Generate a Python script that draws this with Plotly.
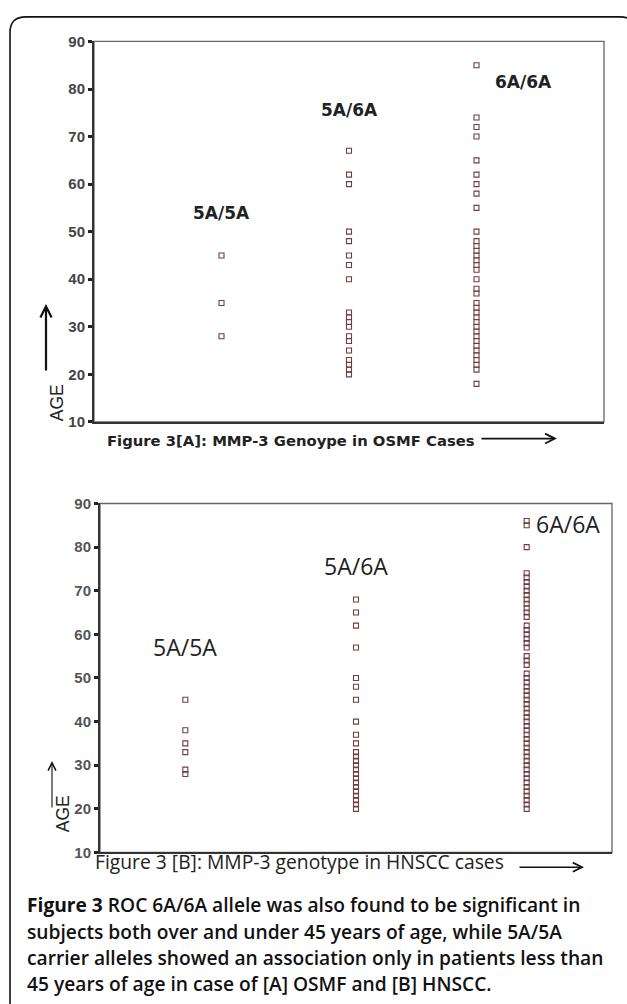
import plotly.graph_objects as go

W, H = 627, 1004

categories = ["5A/5A", "5A/6A", "6A/6A"]

# Panel A (OSMF) ages
osmf_5a5a = [45, 35, 28]
osmf_5a6a = [67, 62, 60, 50, 48, 45, 43, 40, 33, 32, 31, 30, 28, 27, 25, 23, 22, 21, 20]
osmf_6a6a = [85, 74, 72, 70, 65, 62, 60, 58, 55, 50, 48, 47, 46, 45, 44, 43, 42, 40,
             38, 37, 35, 34, 33, 32, 31, 30, 29, 28, 27, 26, 25, 24, 23, 22, 21, 18]

# Panel B (HNSCC) ages
hnscc_5a5a = [45, 38, 35, 33, 29, 28]
hnscc_5a6a = [68, 65, 62, 57, 50, 48, 45, 40, 37, 35, 33, 32, 31, 30, 29, 28, 27, 26,
              25, 24, 23, 22, 21, 20]
hnscc_6a6a = [86, 85, 80, 74, 73, 72, 71, 70, 69, 68, 67, 66, 65, 64, 62, 61, 60, 59,
              58, 57, 55, 54, 53, 51, 50, 49, 48, 47, 46, 45, 44, 43, 42, 41, 40, 39,
              38, 37, 36, 35, 34, 33, 32, 31, 30, 29, 28, 27, 26, 25, 24, 23, 22, 21, 20]

y_ticks = [10, 20, 30, 40, 50, 60, 70, 80, 90]


def px(x):
    return x / W


def py(y):
    return 1 - y / H


MARK = "#733d3d"

fig = go.Figure()

panels = [
    ("x", "y", [osmf_5a5a, osmf_5a6a, osmf_6a6a]),
    ("x2", "y2", [hnscc_5a5a, hnscc_5a6a, hnscc_6a6a]),
]
for xa, ya, groups in panels:
    for cat, vals in zip(categories, groups):
        fig.add_trace(go.Scatter(
            x=[cat] * len(vals), y=vals, mode="markers", xaxis=xa, yaxis=ya,
            marker=dict(symbol="square-open", size=5, color=MARK, line=dict(width=1.1, color=MARK)),
            showlegend=False, hoverinfo="skip"))

axis_common = dict(showgrid=False, zeroline=False)
fig.update_layout(
    width=W, height=H,
    margin=dict(l=0, r=0, t=0, b=0),
    paper_bgcolor="white", plot_bgcolor="white",
    xaxis=dict(domain=[px(94), px(604)], anchor="y", type="category",
               categoryorder="array", categoryarray=categories, range=[-1, 3],
               showticklabels=False, ticks="", showline=True, linecolor="#333",
               linewidth=2, **axis_common),
    yaxis=dict(domain=[py(420), py(33)], anchor="x", range=[10, 90], tickvals=y_ticks,
               ticks="outside", ticklen=4, tickwidth=3, tickcolor="#222",
               showline=True, linecolor="#333", linewidth=2,
               tickfont=dict(family="Liberation Sans, Arial", size=15, color="#444", weight="bold"),
               **axis_common),
    xaxis2=dict(domain=[px(100), px(612)], anchor="y2", type="category",
                categoryorder="array", categoryarray=categories, range=[-0.5, 2.5],
                showticklabels=False, ticks="", showline=True, linecolor="#333",
                linewidth=2, **axis_common),
    yaxis2=dict(domain=[py(858), py(503)], anchor="x2", range=[10, 90], tickvals=y_ticks,
                ticks="outside", ticklen=4, tickwidth=3, tickcolor="#222",
                showline=True, linecolor="#333", linewidth=2,
                tickfont=dict(family="Liberation Sans, Arial", size=15, color="#555", weight="bold"),
                **axis_common),
)

shapes = [
    dict(type="rect", xref="paper", yref="paper", x0=px(94), x1=px(604), y0=py(420), y1=py(33),
         line=dict(color="#666", width=1.3), layer="below"),
    dict(type="rect", xref="paper", yref="paper", x0=px(100), x1=px(612), y0=py(858), y1=py(503),
         line=dict(color="#666", width=1.3), layer="below"),
]
r = 16
x0, y0, x1, y1 = 10, 8, 636, 1030
path = (f"M {px(x0)},{py(y1)} L {px(x0)},{py(y0 + r)} "
        f"Q {px(x0)},{py(y0)} {px(x0 + r)},{py(y0)} "
        f"L {px(x1 - r)},{py(y0)} Q {px(x1)},{py(y0)} {px(x1)},{py(y0 + r)} "
        f"L {px(x1)},{py(y1)}")
shapes.append(dict(type="path", xref="paper", yref="paper", path=path,
                   line=dict(color="#111", width=1.6)))
fig.update_layout(shapes=shapes)


def arrow(xh, yh, xt, yt, width, size):
    return dict(x=px(xh), y=py(yh), xref="paper", yref="paper", axref="pixel", ayref="pixel",
                ax=xt - xh, ay=yt - yh, text="", showarrow=True, arrowhead=5,
                arrowsize=size, arrowwidth=width, arrowcolor="#111")


ann = []
fa = dict(family="DejaVu Sans, Verdana", size=17, color="#222", weight="bold")
ann += [
    dict(x=0, y=54, xref="x", yref="y", text="5A/5A", showarrow=False, font=fa),
    dict(x=1, y=75.5, xref="x", yref="y", text="5A/6A", showarrow=False, font=fa),
    dict(x=2.37, y=81.5, xref="x", yref="y", text="6A/6A", showarrow=False, font=fa),
]
fb = dict(family="Open Sans", size=23, color="#222")
ann += [
    dict(x=0, y=57, xref="x2", yref="y2", text="5A/5A", showarrow=False, font=fb),
    dict(x=1, y=75.7, xref="x2", yref="y2", text="5A/6A", showarrow=False, font=fb),
    dict(x=2.24, y=85.2, xref="x2", yref="y2", text="6A/6A", showarrow=False, font=fb),
]
ann.append(dict(x=px(105), y=py(439), xref="paper", yref="paper", xanchor="left", yanchor="middle",
                text="Figure 3[A]: MMP-3 Genoype in OSMF Cases", showarrow=False,
                font=dict(family="DejaVu Sans, Verdana", size=14.8, color="#222", weight="bold")))
ann.append(dict(x=px(93), y=py(867), xref="paper", yref="paper", xanchor="left", yanchor="middle",
                text="Figure 3 [B]: MMP-3 genotype in HNSCC cases", showarrow=False,
                font=dict(family="Open Sans", size=19.3, color="#222")))
ann.append(arrow(557, 437, 480, 437, 1.6, 1.2))
ann.append(arrow(584, 873, 518, 873, 1.5, 1.2))
ann.append(dict(x=px(45), y=py(401), xref="paper", yref="paper", text="AGE", textangle=-90,
                showarrow=False, font=dict(family="Liberation Sans, Arial", size=17.5, color="#222")))
ann.append(dict(x=px(51), y=py(839), xref="paper", yref="paper", text="AGE", textangle=-90,
                showarrow=False, font=dict(family="Liberation Sans, Arial", size=17.5, color="#222")))
ann.append(arrow(46, 300, 46, 368, 2.2, 1.0))
ann.append(arrow(52, 765, 52, 813, 1.1, 1.4))

caption_lines = [
    "<b>Figure 3</b> ROC 6A/6A allele was also found to be significant in",
    "subjects both over and under 45 years of age, while 5A/5A",
    "carrier alleles showed an association only in patients less than",
    "45 years of age in case of [A] OSMF and [B] HNSCC.",
]
cap_y = [911, 938, 965, 991]
for line, yy in zip(caption_lines, cap_y):
    ann.append(dict(x=px(26), y=py(yy), xref="paper", yref="paper", xanchor="left", yanchor="middle",
                    text=line, showarrow=False, borderpad=0,
                    font=dict(family="Open Sans", size=19.2, color="#111", weight=600)))

fig.update_layout(annotations=ann)
fig.write_html("out.html", config={"displayModeBar": False},
               post_script="document.body.style.margin='0';")
